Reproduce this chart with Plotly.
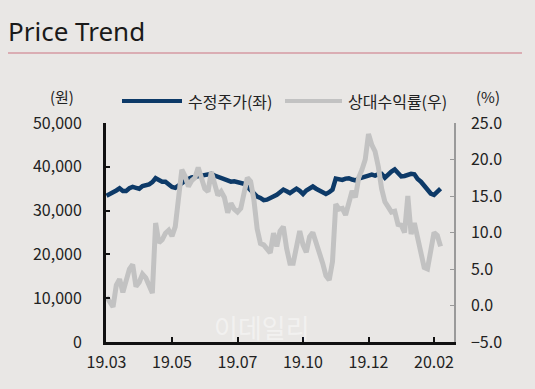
import plotly.graph_objects as go

# Daily-ish samples (index-based category positions)
price = [33400, 33700, 34200, 34600, 35100, 34500, 34500, 35100, 35400, 35200,
         35000, 35600, 35800, 36000, 36500, 37400, 37000, 36600, 36600, 36000,
         35400, 35200, 35800, 36400, 36800, 37200, 37600, 37700, 37800, 38000,
         38100, 38300, 38400, 38000, 37700, 37300, 37100, 36800, 36600, 36700,
         36500, 36300, 36100, 35400, 34700, 34000, 33200, 32900, 32400, 32500,
         32800, 33200, 33600, 34200, 34800, 34400, 34000, 34500, 35000, 34500,
         33800, 34600, 35200, 35500, 35000, 34500, 34200, 33800, 34200, 34800,
         37300, 37200, 37000, 37300, 37400, 37100, 36900, 37300, 37600, 37800,
         38000, 38200, 38000, 38300, 38400, 37500, 38400, 38900, 39400, 38600,
         37800, 37900, 38100, 38400, 38300, 37200, 36600, 35600, 34500, 33900,
         33600, 34200, 35000]

rel_return = [1.2, 0.6, -0.2, 2.8, 3.6, 1.8, 3.2, 5.0, 5.6, 2.6,
              3.2, 4.3, 3.8, 2.5, 1.7, 11.3, 8.6, 9.0, 9.9, 10.3,
              9.5, 10.8, 14.3, 18.6, 17.7, 16.3, 17.1, 17.5, 18.9, 17.6,
              16.0, 15.6, 18.3, 16.7, 15.1, 15.6, 14.8, 12.7, 14.0, 13.2,
              12.8, 13.3, 15.3, 17.5, 17.0, 14.5, 10.5, 8.5, 8.3, 7.6,
              7.2, 9.9, 8.1, 10.2, 10.8, 7.8, 5.8, 5.8, 8.5, 10.2,
              8.3, 7.3, 9.4, 10.0, 8.6, 7.3, 5.8, 4.1, 3.5, 6.0,
              13.9, 13.2, 13.3, 12.4, 14.2, 15.7, 14.8, 17.5, 18.6, 20.0,
              23.5, 22.0, 21.1, 19.0, 16.0, 14.2, 13.5, 12.8, 12.9, 11.1,
              11.0, 10.0, 15.0, 9.8, 11.3, 9.3, 7.7, 5.2, 5.0, 7.4,
              10.0, 9.6, 8.1]

tick_labels = ["19.03", "19.05", "19.07", "19.10", "19.12", "20.02"]
tick_pos = [0, 20, 40, 60, 80, 100]
left_ticks = [0, 10000, 20000, 30000, 40000, 50000]
right_ticks = [-5, 0, 5, 10, 15, 20, 25]

series_names = ["수정주가(좌)", "상대수익률(우)"]
BLUE = "#0d3a68"
GRAY = "#c2c2c2"
BG = "#e9e7e5"
FONT = "Noto Sans CJK KR"

x = list(range(len(price)))

fig = go.Figure()
fig.add_trace(go.Scatter(x=x, y=price, mode="lines", name=series_names[0],
                         line=dict(color=BLUE, width=4.5), yaxis="y", showlegend=False))
fig.add_trace(go.Scatter(x=x, y=rel_return, mode="lines", name=series_names[1],
                         line=dict(color=GRAY, width=5), yaxis="y2", showlegend=False))

W, H = 535, 389
L, R, T, B = 106, 81, 123, 47
pw, ph = W - L - R, H - T - B


def px(xp):
    return (xp - L) / pw


def py(yp):
    return (H - B - yp) / ph


fig.update_layout(
    width=W, height=H,
    margin=dict(l=L, r=R, t=T, b=B),
    paper_bgcolor=BG, plot_bgcolor=BG,
    font=dict(family=FONT, color="#222222", size=16),
    xaxis=dict(range=[-0.15, 106.1], tickmode="array", tickvals=tick_pos, ticktext=tick_labels,
               showgrid=False, zeroline=False, showline=True, linecolor="#111111", linewidth=3,
               ticks="inside", ticklen=5, tickwidth=2, tickcolor="#111111",
               tickfont=dict(size=16, color="#222222"), ticklabelstandoff=4),
    yaxis=dict(range=[0, 50000], tickvals=left_ticks, tickformat=",d",
               showgrid=False, zeroline=False, showline=True, linecolor="#111111", linewidth=3,
               ticks="inside", ticklen=4, tickwidth=2, tickcolor="#111111",
               tickfont=dict(size=16, color="#222222"), ticklabelstandoff=18),
    yaxis2=dict(range=[-5, 25], tickvals=right_ticks, tickformat=".1f", overlaying="y", side="right",
                showgrid=False, zeroline=False, showline=True, linecolor="#9a9a9a", linewidth=1.5,
                ticks="inside", ticklen=4, tickwidth=1, tickcolor="#9a9a9a",
                tickfont=dict(size=16, color="#222222"), ticklabelstandoff=12),
    showlegend=False,
)

annotations = [
    dict(text="Price Trend", x=px(6), y=py(31), xref="paper", yref="paper",
         xanchor="left", yanchor="middle", showarrow=False,
         font=dict(family="Noto Sans", size=26, color="#1a1a1a")),
    dict(text="(원)", x=px(62), y=py(97), xref="paper", yref="paper",
         xanchor="center", yanchor="middle", showarrow=False, font=dict(size=15)),
    dict(text="(%)", x=px(488), y=py(97), xref="paper", yref="paper",
         xanchor="center", yanchor="middle", showarrow=False, font=dict(size=15)),
    dict(text=series_names[0], x=px(186), y=py(101), xref="paper", yref="paper",
         xanchor="left", yanchor="middle", showarrow=False, font=dict(size=16)),
    dict(text=series_names[1], x=px(346), y=py(101), xref="paper", yref="paper",
         xanchor="left", yanchor="middle", showarrow=False, font=dict(size=16)),
    dict(text="이데일리", x=px(262), y=py(326), xref="paper", yref="paper",
         xanchor="center", yanchor="middle", showarrow=False,
         font=dict(size=26, color="rgba(255,255,255,0.45)")),
]
fig.update_layout(annotations=annotations)

shapes = [
    dict(type="line", xref="paper", yref="paper", x0=px(8), x1=px(522), y0=py(53), y1=py(53),
         line=dict(color="#d59aa2", width=1.5)),
    dict(type="line", xref="paper", yref="paper", x0=px(122), x1=px(182), y0=py(101), y1=py(101),
         line=dict(color=BLUE, width=4)),
    dict(type="line", xref="paper", yref="paper", x0=px(285), x1=px(342), y0=py(101), y1=py(101),
         line=dict(color=GRAY, width=4)),
]
fig.update_layout(shapes=shapes)

fig.write_html(
    "out.html",
    config={"displayModeBar": False},
    post_script="document.body.style.margin='0';document.body.style.padding='0';"
                "document.body.style.background='" + BG + "';",
)
